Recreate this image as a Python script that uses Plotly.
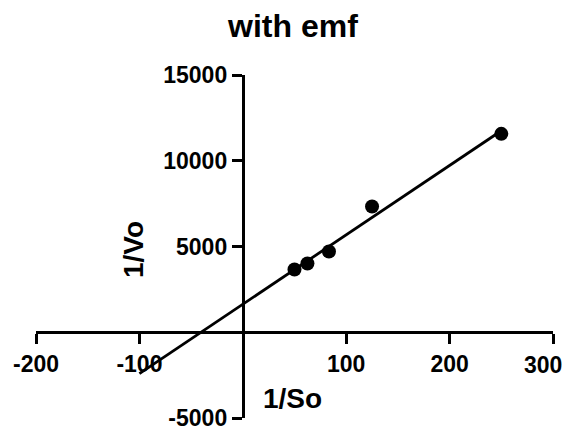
import numpy as np
import plotly.graph_objects as go

# Data
inv_s = [50, 62.5, 83.33, 125, 250]          # 1/So
inv_v = [3656, 4006, 4706, 7330, 11569]      # 1/Vo

x_ticks = [-200, -100, 100, 200, 300]
x_tick_text = ["-200", "-100", "100", "200", "300"]
y_ticks = [-5000, 5000, 10000, 15000]
y_tick_text = ["-5000", "5000", "10000", "15000"]
x_range = [-200, 300]
y_range = [-5000, 15000]
fit_x_range = [-100, 250]

slope, intercept = np.polyfit(inv_s, inv_v, 1)
fx = np.array(fit_x_range, dtype=float)
fy = slope * fx + intercept

FONT = "Liberation Sans, Arial, sans-serif"
W, H = 572, 430
L, R, T, B = 36, 19, 75, 12
PW, PH = W - L - R, H - T - B


def px2paper(px, py):
    return (px - L) / PW, (H - B - py) / PH


fig = go.Figure()
fig.add_trace(go.Scatter(x=fx, y=fy, mode="lines",
                         line=dict(color="black", width=2.8),
                         showlegend=False, hoverinfo="skip"))
fig.add_trace(go.Scatter(x=inv_s, y=inv_v, mode="markers",
                         marker=dict(color="black", size=14),
                         showlegend=False))

xpos = (0 - y_range[0]) / (y_range[1] - y_range[0])
ypos = (0 - x_range[0]) / (x_range[1] - x_range[0])

annots = []
for text, (cx, cy), size, angle in [
    ("<b>with emf</b>", (292, 26), 32, 0),
    ("<b>1/So</b>", (292, 398), 28, 0),
    ("<b>1/Vo</b>", (133, 250), 28, -90),
]:
    ax, ay = px2paper(cx, cy)
    annots.append(dict(text=text, x=ax, y=ay, xref="paper", yref="paper",
                       xanchor="center", yanchor="middle", showarrow=False,
                       textangle=angle, font=dict(size=size, family=FONT, color="black")))

# last x tick label is nudged left to stay inside the picture (as in the reference)
_, label_y = px2paper(0, 364.5)
annots.append(dict(text="<b>" + x_tick_text[-1] + "</b>", x=x_ticks[-1], y=label_y,
                   xref="x", yref="paper", xanchor="center", yanchor="middle",
                   xshift=-10, showarrow=False,
                   font=dict(size=23, family=FONT, color="black")))
shown_text = x_tick_text[:-1] + [""]

axis_common = dict(showgrid=False, zeroline=False, showline=True, linecolor="black",
                   linewidth=3, ticks="outside", ticklen=10, tickwidth=3,
                   tickcolor="black", automargin=False, ticklabeloverflow="allow",
                   tickfont=dict(size=23, family=FONT, weight="bold", color="black"))

fig.update_layout(
    width=W, height=H,
    margin=dict(l=L, r=R, t=T, b=B, autoexpand=False),
    plot_bgcolor="white", paper_bgcolor="white",
    font=dict(family=FONT, color="black"),
    xaxis=dict(range=x_range, tickvals=x_ticks, ticktext=shown_text,
               anchor="free", position=xpos, **axis_common),
    yaxis=dict(range=y_range, tickvals=y_ticks, ticktext=y_tick_text,
               anchor="free", position=ypos, **axis_common),
    annotations=annots,
)

fig.write_html("out.html", config={"displayModeBar": False},
               post_script="document.body.style.margin='0';document.body.style.overflow='hidden';")
